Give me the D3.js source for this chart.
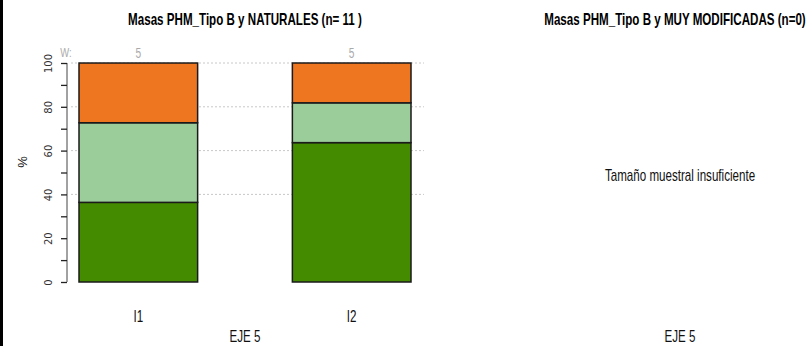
<!DOCTYPE html>
<html>
<head>
<meta charset="utf-8">
<script src="https://cdn.jsdelivr.net/npm/d3@7"></script>
<style>
  html, body { margin: 0; padding: 0; background: #fff; }
  svg { display: block; }
  .narrow { font-family: "Liberation Sans Narrow", "Arial Narrow", "Liberation Sans", Arial, sans-serif; }
</style>
</head>
<body>
<svg id="chart" width="812" height="346"></svg>
<script>
// Indicator categories and their counts
const categories = ["I1", "I2"];
const countLabels = ["5", "5"];
// Stacked percentages per category, bottom to top
const seriesNames = ["verde", "verdeClaro", "naranja"];
const verde      = [36.36, 63.64];
const verdeClaro = [36.36, 18.18];
const naranja    = [27.27, 18.18];
const seriesColors = ["#458B00", "#9BCD9B", "#EE7621"];
// Axis ticks
const majorTicks = [0, 20, 40, 60, 80, 100];
const minorTicks = [10, 30, 50, 70, 90];
const gridTicks = [40, 60, 80, 100];

const titleLeft = "Masas PHM_Tipo B y NATURALES (n= 11 )";
const titleRight = "Masas PHM_Tipo B y MUY MODIFICADAS (n=0)";
const axisTitle = "EJE 5";
const emptyMessage = "Tamaño muestral insuficiente";

const svg = d3.select("#chart");
const SX = 0.725; // horizontal condensing for the narrow face

// place a condensed text label at (px, py)
function label(parent, px, py, txt, size, opts = {}) {
  const t = parent.append("text").attr("class", "narrow")
    .attr("transform", `translate(${px},${py}) scale(${SX},1)`)
    .attr("text-anchor", opts.anchor || "middle")
    .attr("fill", opts.fill || "#111")
    .style("font-size", size + "px")
    .text(txt);
  if (opts.bold) t.style("font-weight", "bold");
  return t;
}

// dark strip along the left edge
svg.append("rect").attr("x", 0).attr("y", 0).attr("width", 3).attr("height", 346).attr("fill", "#000");

// ---- left panel ----
const x = d3.scaleBand().domain(categories).range([79, 411]).paddingInner(0.444).paddingOuter(0);
const y = d3.scaleLinear().domain([0, 100]).range([282, 63]);

const rows = categories.map((c, i) => ({ cat: c, verde: verde[i], verdeClaro: verdeClaro[i], naranja: naranja[i] }));
const stack = d3.stack().keys(seriesNames)(rows);

// dashed grid
svg.append("g").selectAll("line").data(gridTicks).join("line")
  .attr("x1", 71).attr("x2", 424)
  .attr("y1", d => y(d)).attr("y2", d => y(d))
  .attr("stroke", "#c8c8c8").attr("stroke-width", 1).attr("stroke-dasharray", "2,2");

// stacked bars
const layers = svg.append("g").selectAll("g").data(stack).join("g")
  .attr("fill", (d, i) => seriesColors[i]);
layers.selectAll("rect").data(d => d).join("rect")
  .attr("x", d => x(d.data.cat))
  .attr("width", x.bandwidth())
  .attr("y", d => y(d[1]))
  .attr("height", d => y(d[0]) - y(d[1]))
  .attr("stroke", "#1a1a1a").attr("stroke-width", 1.5);

// y axis
const yAxis = d3.axisLeft(y).tickValues(majorTicks).tickSize(6).tickFormat(d3.format("d"));
const gy = svg.append("g").attr("transform", "translate(67,0)").call(yAxis);
gy.select(".domain").attr("stroke", "#444").attr("d", `M0,${y(0)}V${y(100)}`);
gy.selectAll(".tick line").attr("stroke", "#222").attr("stroke-width", 1.3);
gy.selectAll(".tick text")
  .attr("transform", "translate(-19,0) rotate(-90)")
  .attr("x", 0).attr("dy", "0.35em").attr("text-anchor", "middle")
  .attr("fill", "#333").style("font-family", "'DejaVu Sans', sans-serif").style("font-size", "10px");
const gyMinor = svg.append("g").attr("transform", "translate(67,0)")
  .call(d3.axisLeft(y).tickValues(minorTicks).tickSize(6).tickFormat(""));
gyMinor.select(".domain").remove();
gyMinor.selectAll(".tick line").attr("stroke", "#222").attr("stroke-width", 1.3);

// counts above bars
label(svg, 66, 57, "W:", 13, { fill: "#aaa" });
categories.forEach((c, i) => label(svg, x(c) + x.bandwidth() / 2, 58, countLabels[i], 14, { fill: "#aaa" }));

// category labels
categories.forEach(c => label(svg, x(c) + x.bandwidth() / 2, 322, c, 16));

// % label
svg.append("text").attr("class", "narrow")
  .attr("transform", "translate(27,162) rotate(-90)")
  .attr("text-anchor", "middle").attr("fill", "#111").style("font-size", "13px").text("%");

// titles
label(svg, 245, 25, titleLeft, 16, { bold: true, fill: "#000" });
label(svg, 245, 342, axisTitle, 16);

// ---- right panel ----
label(svg, 675, 25, titleRight, 16, { bold: true, fill: "#000" });
label(svg, 680, 181, emptyMessage, 16);
label(svg, 680, 342, axisTitle, 16);
</script>
</body>
</html>
